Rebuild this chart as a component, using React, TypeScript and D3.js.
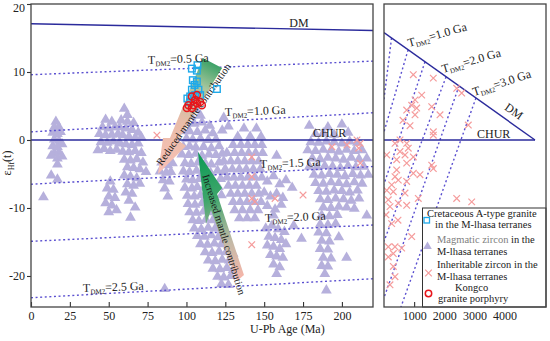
import React, { useEffect, useRef } from 'react';
import * as d3 from 'd3';

type Pt = [number, number];

// axis ticks
const ageTicks = [0, 25, 50, 75, 100, 125, 150, 175, 200];
const epsTicks = [20, 10, 0, -10, -20];
const inheritTicks = [1000, 2000, 3000, 4000];

// reference lines, left panel (age Ma, eHf)
const dmLine: Pt[] = [[0, 17.1], [220, 16.1]];
const churLine: Pt[] = [[0, 0], [220, 0]];
const tdm2Lines: Pt[][] = [
  [[0, 9.6], [220, 11.6]],
  [[0, 1.2], [220, 4.0]],
  [[0, -6.5], [220, -3.9]],
  [[0, -14.9], [220, -12.5]],
  [[0, -23.2], [220, -20.4]],
];

// reference lines, right panel
const dmRight: Pt[] = [[0, 15.78], [5010, 0]];
const churRight: Pt[] = [[0, 0], [5010, 0]];
const tdm2Right: Pt[][] = [
  [[250, 15.0], [0, 6]],
  [[800, 13.26], [0, 1.2]],
  [[1360, 11.5], [0, -6.5]],
  [[2060, 9.29], [0, -14.9]],
  [[2490, 7.94], [0, -23.2]],
  [[3050, 6.17], [0, -31.5]],
];

// magmatic zircon in the M-Lhasa terranes
const magmaticA: Pt[] = [[16,2.8],[15,2],[18,2],[14,1.2],[17,1],[19,1.3],[15,0.2],[18,0],[14,-0.8],[17,-0.9],[20,-0.5],[15,-1.8],[18,-1.7],[13,-2.2],[20,-2.3],[17,-2.6],[17,-3.5],[13,-5.1],[17,-5.7],[8,-8.3]];
const magmaticB: Pt[] = [[48,3.1],[52,2.8],[46,2],[50,1.8],[54,2],[44,1],[48,0.8],[52,0.9],[56,1],[45,-0.2],[49,-0.3],[53,-0.1],[57,-0.4],[43,-1.4],[47,-1.2],[51,-1.5],[55,-1.3],[51,-6],[49,-7],[53,-7.2],[50,-8.2],[54,-8.4],[48,-9.2],[52,-9.5],[50,-10.5],[55,-10.2]];
const magmaticC: Pt[] = [[60,4.7],[62,3.8],[58,3],[62,2.8],[66,2.6],[57,2],[61,1.8],[65,1.6],[69,1.2],[59,0.8],[63,0.6],[67,0.4],[71,0.5],[57,-0.3],[61,-0.5],[65,-0.6],[69,-0.4],[59,-1.6],[63,-1.7],[67,-1.5],[71,-1.8],[60,-2.8],[64,-2.9],[68,-2.7],[72,-3.2],[62,-3.9],[66,-4],[70,-4.2],[74,-4.6],[60,-5.1],[64,-5.3],[68,-5.5],[62,-6.4],[66,-6.6],[70,-6.3],[61,-7.6],[65,-7.8],[63,-8.8],[67,-9.8],[64,-11.3]];
const magmaticD: Pt[] = [[84,-3.2],[88,-3.6],[91,-3.3],[83,-4.5],[87,-4.7],[90,-4.6],[85,-5.8],[89,-6],[86,-7],[88,-8.2],[86,-21.8]];
const magmaticE: Pt[] = [
  [106,4.6],[103,3.6],[109,3.7],[100,2.6],[105,2.5],[110,2.7],[115,2.2],[98,1.4],[102,1.4],[107,1.3],[112,1.5],[117,1.1],[100,0.3],[104,0.2],[109,0.3],[114,0.1],[119,0.2],[98,-0.9],[102,-0.8],[106,-1],[111,-0.9],[116,-1.1],[121,-0.8],[124,3.4],[127,2.1],[123,1.5],
  [97,-2],[101.5,-2.1],[106,-1.9],[110,-2.2],[114.5,-2],[119,-2.1],[123,-1.9],
  [99,-3.3],[103,-3.4],[107.5,-3.2],[112,-3.3],[116,-3.5],[121,-3.2],
  [98,-4.5],[102,-4.6],[106.5,-4.4],[111,-4.5],[115.5,-4.7],[120,-4.4],[124,-4.6],
  [100,-5.7],[104,-5.8],[108.5,-5.6],[113,-5.7],[117,-5.9],[122,-5.6],
  [99,-6.9],[103.5,-7],[107,-6.8],[111.5,-6.9],[116,-7.1],[120.5,-6.8],
  [100.5,-8.1],[105,-8.2],[109,-8],[113.5,-8.1],[118,-8.3],[122.5,-8],
  [101,-9.3],[105.5,-9.4],[110,-9.2],[114,-9.3],[118.5,-9.5],
  [102,-10.5],[106.5,-10.6],[111,-10.4],[115,-10.5],[119.5,-10.7],
  [104,-11.7],[108,-11.8],[112.5,-11.6],[117,-11.7],[121,-11.9],
  [105,-12.9],[109.5,-13],[114,-12.8],[118.5,-12.9],[123,-13.1],
  [107,-14],[111.5,-14.1],[116,-13.9],[120.5,-14.2],[125,-14],
  [109,-15.2],[113.5,-15.3],[118,-15.1],[122.5,-15.2],[127,-15.4],
  [112,-16.4],[116.5,-16.5],[121,-16.3],[125.5,-16.4],[130,-16.6],
  [114,-17.6],[118.5,-17.7],[123,-17.5],[127.5,-17.6],[131,-17.8],
  [117,-18.8],[121.5,-18.9],[126,-18.7],[130,-19],
  [120,-20],[124,-20.1],[128.5,-19.9],[122.5,-21.1],[127,-21.2],
];
const magmaticF: Pt[] = [
  [137,1.8],[145,1.8],[133,0.6],[141,0.6],[148,0.6],
  [130,-0.6],[135,-0.6],[139.5,-0.6],[144,-0.6],[148.5,-0.6],
  [126,-1.8],[131,-1.8],[135.5,-1.8],[140,-1.8],[144.5,-1.8],[149,-1.8],
  [124,-3],[128.5,-3],[133,-3],[137.5,-3],[142,-3],[146.5,-3],
  [125,-4.2],[129.5,-4.2],[134,-4.2],[138.5,-4.2],[143,-4.2],[147.5,-4.2],
  [126,-5.4],[130.5,-5.4],[135,-5.4],[139.5,-5.4],[144,-5.4],[148.5,-5.4],
  [127,-6.6],[131.5,-6.6],[136,-6.6],[140.5,-6.6],[145,-6.6],
  [128.5,-7.8],[133,-7.8],[137.5,-7.8],[142,-7.8],[146.5,-7.8],
  [130,-9],[134.5,-9],[139,-9],[143.5,-9],[148,-9],
  [131,-10.2],[136,-10.2],[141,-10.2],[146,-10.2],[134,-11.4],[139,-11.4],[144,-11.4],
];
const magmaticMid: Pt[] = [
  [158,-2.2],[152,-6],[156,-5.2],[160,-6.4],[164,-5.8],[168,-6.9],[150,-7.6],[154,-8.2],[158,-7.8],[162,-8.4],[152,-9.6],[157,-10.1],[161,-9.4],[156,-11],
  [151,-12.9],[155,-12.5],[159,-13],[163,-13.4],[153,-14.1],[157,-14.3],[161,-14.6],[152,-15.4],[156,-15.6],[160,-15.9],[164,-15.2],[154,-16.8],[158,-17],[162,-17.2],[156,-18.2],[160,-18.6],[158,-19.6],[174,-14.4],[169,-12.5],
];
const magmaticG: Pt[] = [
  [179,2.2],[200,2.4],[191,2],[183,1],[188,1.1],[195,0.9],[204,1.2],
  [180,-0.2],[185,-0.3],[190,-0.1],[195,-0.2],[200,-0.4],[205,-0.1],[210,-0.3],
  [178,-1.4],[183,-1.5],[188,-1.3],[193,-1.4],[198,-1.6],[203,-1.3],[208,-1.5],[213,-1.4],
  [181,-2.6],[186,-2.7],[191,-2.5],[196,-2.6],[201,-2.8],[206,-2.5],[211,-2.7],[216,-2.6],
  [179,-3.8],[184,-3.9],[189,-3.7],[194,-3.8],[199,-4],[204,-3.7],[209,-3.9],[214,-3.8],
  [182,-5],[187,-5.1],[192,-4.9],[197,-5],[202,-5.2],[207,-4.9],[212,-5.1],[217,-5],
  [183,-6.2],[188,-6.3],[193,-6.1],[198,-6.2],[203,-6.4],[208,-6.1],[213,-6.3],
  [185,-7.4],[190,-7.5],[195,-7.3],[200,-7.4],[205,-7.6],[210,-7.3],
  [186,-8.6],[191,-8.7],[196,-8.5],[201,-8.6],[206,-8.8],[211,-8.5],
  [188,-9.8],[193,-9.9],[198,-9.7],[203,-9.8],[208,-10],
  [187,-11],[192,-11.1],[197,-10.9],[216,-11],[186,-12.3],[191,-12.4],[196,-12.2],
  [185,-13.5],[190,-13.6],[198,-14.2],[187,-14.7],[192,-14.8],[186,-15.9],[191,-16],[203,-17.2],
  [188,-17.2],[193,-17.3],[187,-18.4],[191,-18.5],[189,-19.6],[190,-22],
];
const magmatic: Pt[] = [...magmaticA, ...magmaticB, ...magmaticC, ...magmaticD, ...magmaticE, ...magmaticF, ...magmaticMid, ...magmaticG];

// inheritable zircon
const inheritLeft: Pt[] = [[81,0.7],[142,-2.5],[142,-5.4],[142,-8.6],[144,-9.1],[157,-8.6],[142,-15.4],[175,-8.1],[193.6,-1],[203.3,-0.7],[209.7,0],[210.8,-1.2],[211.8,-0.5],[211.8,-3.4]];
const inheritRight: Pt[] = [[972,9.6],[1636,9.1],[2412,7.6],[2578,6.9],[1251,6.6],[1029,5.9],[919,5.1],[753,4.4],[1085,4.7],[1583,4.9],[1029,3.7],[1858,3.7],[2797,2.2],[1636,1.2],[1636,0.7],[365,-0.5],[753,-0.5],[806,-1.2],[531,-1.7],[697,-2.2],[90,-2.2],[421,-2.9],[753,-3.4],[972,-2.5],[1583,-3.7],[1636,-4.2],[421,-4.4],[365,-5.4],[474,-5.9],[255,-6.6],[972,-4.9],[1194,-5.1],[753,-6.1],[90,-7.4],[309,-7.6],[697,-7.8],[1138,-8.6],[2412,-8.6],[2910,-9.1],[143,-8.8],[474,-9.3],[199,-9.8],[753,-9.6],[255,-12.3],[919,-14.2],[143,-15.7],[365,-15.7],[587,-15.9],[143,-17.2],[309,-16.7],[309,-18.6],[365,-20.1],[199,-21.3],[531,0],[863,2.1],[630,2.9],[66,-11],[464,-11.8]];

// Cretaceous A-type granite and Kongco granite porphyry
const aTypeGranite: Pt[] = [[103.5,10.5],[107.1,11.0],[106.7,10.2],[104.1,8.8],[106.7,8.6],[105.2,8.1],[103.5,7.4],[107.7,7.4],[102.4,6.4],[105.6,6.6],[100.6,6.1],[108.8,6.6],[102.4,5.6],[119.6,7.5]];
const kongco: Pt[] = [[103.5,6.4],[106.7,6.6],[105.6,5.9],[108.8,5.6],[101.3,5.1],[100.3,4.7],[103.5,4.7],[109.9,5.1],[104.5,5.1],[106.9,5.4]];

// arrows (age, eHf)
const reducedArrow: Pt[] = [[110.6,12.06],[122.9,10.59],[94.6,0],[99.7,-0.88],[81.7,-5],[84.9,0.29],[89.4,0.29]];
const increasedArrow: Pt[] = [[107.4,-1.76],[122.9,-7.06],[119.7,-7.94],[137,-19.85],[132.5,-20.74],[115.8,-10.29],[112.6,-12.35]];

const font = 'Liberation Serif, Times New Roman, serif';
const triPath = 'M0,-5.5L5.4,3.8L-5.4,3.8Z';
const crossPath = 'M-3.3,-3.3L3.3,3.3M-3.3,3.3L3.3,-3.3';

const App: React.FC = () => {
  const ref = useRef<SVGSVGElement>(null);

  useEffect(() => {
    if (!ref.current) return;
    const svg = d3.select(ref.current);
    svg.selectAll('*').remove();

    const x = d3.scaleLinear().domain([0, 220]).range([31, 373]);
    const y = d3.scaleLinear().domain([-24.56, 20]).range([307, 4]);
    const xr = d3.scaleLinear().domain([0, 5375]).range([384, 546]);

    const defs = svg.append('defs');
    defs.append('clipPath').attr('id', 'clipL').append('rect')
      .attr('x', 31).attr('y', 4).attr('width', 342).attr('height', 303);
    defs.append('clipPath').attr('id', 'clipR').append('rect')
      .attr('x', 384).attr('y', 4).attr('width', 162).attr('height', 303);

    const gr1 = defs.append('linearGradient').attr('id', 'gradReduced')
      .attr('gradientUnits', 'userSpaceOnUse')
      .attr('x1', x(82)).attr('y1', y(-5)).attr('x2', x(120)).attr('y2', y(12));
    [[0, '#f9c0b6'], [0.45, '#e8bca8'], [0.75, '#a8c69e'], [1, '#22995a']].forEach(([o, c]) =>
      gr1.append('stop').attr('offset', o as number).attr('stop-color', c as string));
    const gr2 = defs.append('linearGradient').attr('id', 'gradIncreased')
      .attr('gradientUnits', 'userSpaceOnUse')
      .attr('x1', x(108)).attr('y1', y(-2)).attr('x2', x(136)).attr('y2', y(-20.5));
    [[0, '#0c9a55'], [0.35, '#3ea66b'], [0.7, '#c2b9a6'], [1, '#f8b6aa']].forEach(([o, c]) =>
      gr2.append('stop').attr('offset', o as number).attr('stop-color', c as string));

    const lineL = d3.line<Pt>().x(d => x(d[0])).y(d => y(d[1]));
    const lineR = d3.line<Pt>().x(d => xr(d[0])).y(d => y(d[1]));

    // ---------- left panel ----------
    const gL = svg.append('g').attr('clip-path', 'url(#clipL)');
    gL.append('g').selectAll('path').data(magmatic).join('path')
      .attr('d', triPath)
      .attr('transform', d => `translate(${x(d[0])},${y(d[1])})`)
      .attr('fill', '#b6b0dc');

    gL.append('g').selectAll('path').data(tdm2Lines).join('path')
      .attr('d', d => lineL(d))
      .attr('fill', 'none').attr('stroke', '#5a4fd0').attr('stroke-width', 1.4)
      .attr('stroke-dasharray', '2,2.6');
    gL.append('path').attr('d', lineL(dmLine)).attr('fill', 'none').attr('stroke', '#2b2b9c').attr('stroke-width', 1.4);
    gL.append('path').attr('d', lineL(churLine)).attr('fill', 'none').attr('stroke', '#2b2b9c').attr('stroke-width', 1.4);

    gL.append('g').selectAll('path').data(inheritLeft).join('path')
      .attr('d', crossPath)
      .attr('transform', d => `translate(${x(d[0])},${y(d[1])})`)
      .attr('stroke', '#f59c9c').attr('stroke-width', 1.2).attr('fill', 'none');

    gL.append('path').attr('d', lineL(reducedArrow) + 'Z').attr('fill', 'url(#gradReduced)');
    gL.append('path').attr('d', lineL(increasedArrow) + 'Z').attr('fill', 'url(#gradIncreased)');

    gL.append('text')
      .attr('transform', `translate(${x(104.5)},${y(3.8)}) rotate(-55)`)
      .attr('text-anchor', 'middle').attr('dy', '0.35em')
      .attr('font-family', font).attr('font-size', 10.5).attr('fill', '#1a1a1a')
      .text('Reduced mantle contribution');
    gL.append('text')
      .attr('transform', `translate(${x(124.2)},${y(-13.9)}) rotate(73)`)
      .attr('text-anchor', 'middle').attr('dy', '0.35em')
      .attr('font-family', font).attr('font-size', 10.5).attr('fill', '#1a1a1a')
      .text('Increased mantle contribution');

    gL.append('g').selectAll('rect').data(aTypeGranite).join('rect')
      .attr('x', d => x(d[0]) - 3.3).attr('y', d => y(d[1]) - 3.3)
      .attr('width', 6.6).attr('height', 6.6)
      .attr('fill', 'none').attr('stroke', '#1ea9ea').attr('stroke-width', 1.4);
    gL.append('g').selectAll('circle').data(kongco).join('circle')
      .attr('cx', d => x(d[0])).attr('cy', d => y(d[1])).attr('r', 3.5)
      .attr('fill', 'none').attr('stroke', '#e8161b').attr('stroke-width', 1.5);

    const label = (px: number, py: number, ga: string, angle: number) => {
      const t = svg.append('text')
        .attr('transform', `translate(${px},${py}) rotate(${angle})`)
        .attr('font-family', font).attr('font-size', 12).attr('fill', '#222');
      t.append('tspan').text('T');
      t.append('tspan').attr('font-size', 7).attr('dy', 2.5).text('DM2');
      t.append('tspan').attr('dy', -2.5).text(`=${ga} Ga`);
    };
    label(x(75.3), y(11.18), '0.5', -2);
    label(x(124.8), y(3.53), '1.0', -2);
    label(x(147.3), y(-4.12), '1.5', -2);
    label(x(150.5), y(-12.06), '2.0', -2);
    label(x(33.5), y(-22.35), '2.5', -2);

    svg.append('text').attr('x', x(172.4)).attr('y', y(16.6)).attr('text-anchor', 'middle')
      .attr('font-family', font).attr('font-size', 12).attr('fill', '#222').text('DM');
    svg.append('text').attr('x', x(181.4)).attr('y', y(0.44))
      .attr('font-family', font).attr('font-size', 12).attr('fill', '#222').text('CHUR');

    // axes, left
    const ax = svg.append('g').attr('transform', 'translate(0,307)')
      .call(d3.axisBottom(x).tickValues(ageTicks).tickSizeInner(-5).tickSizeOuter(0).tickPadding(4));
    ax.select('.domain').remove();
    const ay = svg.append('g').attr('transform', 'translate(31,0)')
      .call(d3.axisLeft(y).tickValues(epsTicks).tickFormat(d => String(d)).tickSize(4).tickPadding(2));
    ay.select('.domain').remove();
    ay.selectAll<SVGTextElement, number>('text').filter(d => d === 20).attr('dy', '0.62em');
    [ax, ay].forEach(a => {
      a.selectAll('text').attr('font-family', font).attr('font-size', 12).attr('fill', '#222');
      a.selectAll('line').attr('stroke', '#333').attr('stroke-width', 1.1);
    });
    svg.append('rect').attr('x', 31).attr('y', 4).attr('width', 342).attr('height', 303)
      .attr('fill', 'none').attr('stroke', '#444').attr('stroke-width', 1.3);

    // ---------- right panel ----------
    const gR = svg.append('g').attr('clip-path', 'url(#clipR)');
    gR.append('g').selectAll('path').data(tdm2Right).join('path')
      .attr('d', d => lineR(d))
      .attr('fill', 'none').attr('stroke', '#5a4fd0').attr('stroke-width', 1.4)
      .attr('stroke-dasharray', '2,2.6');
    gR.append('path').attr('d', lineR(dmRight)).attr('fill', 'none').attr('stroke', '#2b2b9c').attr('stroke-width', 1.4);
    gR.append('path').attr('d', lineR(churRight)).attr('fill', 'none').attr('stroke', '#2b2b9c').attr('stroke-width', 1.4);
    gR.append('g').selectAll('path').data(inheritRight).join('path')
      .attr('d', crossPath)
      .attr('transform', d => `translate(${xr(d[0])},${y(d[1])})`)
      .attr('stroke', '#f59c9c').attr('stroke-width', 1.2).attr('fill', 'none');

    const labelR = (t: number, e: number, ga: string, angle: number) => label(xr(t), y(e), ga, angle);
    labelR(829, 13.68, '1.0', -16);
    labelR(1957, 9.85, '2.0', -16);
    labelR(2986, 6.47, '3.0', -18);
    svg.append('text').attr('transform', `translate(${xr(4313)},${y(4.26)}) rotate(35)`)
      .attr('text-anchor', 'middle').attr('dy', '0.35em')
      .attr('font-family', font).attr('font-size', 12).attr('fill', '#222').text('DM');
    svg.append('text').attr('x', xr(3086)).attr('y', y(0.29))
      .attr('font-family', font).attr('font-size', 12).attr('fill', '#222').text('CHUR');

    const axr = svg.append('g').attr('transform', 'translate(0,307)')
      .call(d3.axisBottom(xr).tickValues(inheritTicks).tickFormat(d => String(d))
        .tickSizeInner(-5).tickSizeOuter(0).tickPadding(4));
    axr.select('.domain').remove();
    axr.selectAll('text').attr('font-family', font).attr('font-size', 12).attr('fill', '#222');
    axr.selectAll('line').attr('stroke', '#333').attr('stroke-width', 1.1);

    // legend
    const lg = svg.append('g').attr('font-family', font).attr('font-size', 10.5).attr('fill', '#1a1a1a');
    lg.append('rect').attr('x', 422.5).attr('y', 208).attr('width', 123.5).attr('height', 99)
      .attr('fill', '#fff').attr('stroke', '#333').attr('stroke-width', 1);
    lg.append('text').attr('x', 427).attr('y', 217).text('Cretaceous A-type granite');
    lg.append('text').attr('x', 435).attr('y', 228).text('in the M-lhasa terranes');
    lg.append('rect').attr('x', 424).attr('y', 217.5).attr('width', 5.5).attr('height', 5.5)
      .attr('fill', 'none').attr('stroke', '#1ea9ea').attr('stroke-width', 1.3);
    const mt = lg.append('text').attr('x', 437).attr('y', 243);
    mt.append('tspan').attr('fill', '#808080').text('Magmatic zircon');
    mt.append('tspan').text(' in the');
    lg.append('text').attr('x', 437).attr('y', 255).text('M-lhasa terranes');
    lg.append('path').attr('d', triPath).attr('transform', 'translate(427.5,246) scale(0.8)').attr('fill', '#b6b0dc');
    lg.append('text').attr('x', 437).attr('y', 268).text('Inheritable zircon in the');
    lg.append('text').attr('x', 437).attr('y', 279.5).text('M-lhasa terranes');
    lg.append('path').attr('d', crossPath).attr('transform', 'translate(428.5,273)')
      .attr('stroke', '#f59c9c').attr('stroke-width', 1.2).attr('fill', 'none');
    lg.append('text').attr('x', 455).attr('y', 290.5).text('Kongco');
    lg.append('text').attr('x', 438).attr('y', 302).text('granite porphyry');
    lg.append('circle').attr('cx', 428.5).attr('cy', 293.5).attr('r', 3.2)
      .attr('fill', 'none').attr('stroke', '#e8161b').attr('stroke-width', 1.5);

    svg.append('rect').attr('x', 384).attr('y', 4).attr('width', 162).attr('height', 303)
      .attr('fill', 'none').attr('stroke', '#444').attr('stroke-width', 1.3);

    // axis titles
    svg.append('text').attr('x', 250).attr('y', 333)
      .attr('font-family', font).attr('font-size', 12).attr('fill', '#222').text('U-Pb Age (Ma)');
    const yt = svg.append('text').attr('transform', 'translate(11,163) rotate(-90)')
      .attr('text-anchor', 'middle').attr('font-family', font).attr('font-size', 12).attr('fill', '#222');
    yt.append('tspan').text('ε');
    yt.append('tspan').attr('font-size', 8).attr('dy', 2.5).text('Hf');
    yt.append('tspan').attr('dy', -2.5).text('(t)');
  }, []);

  return (
    <svg ref={ref} width={550} height={341}
      style={{ position: 'absolute', left: 0, top: 0, background: '#fff' }} />
  );
};

export default App;
